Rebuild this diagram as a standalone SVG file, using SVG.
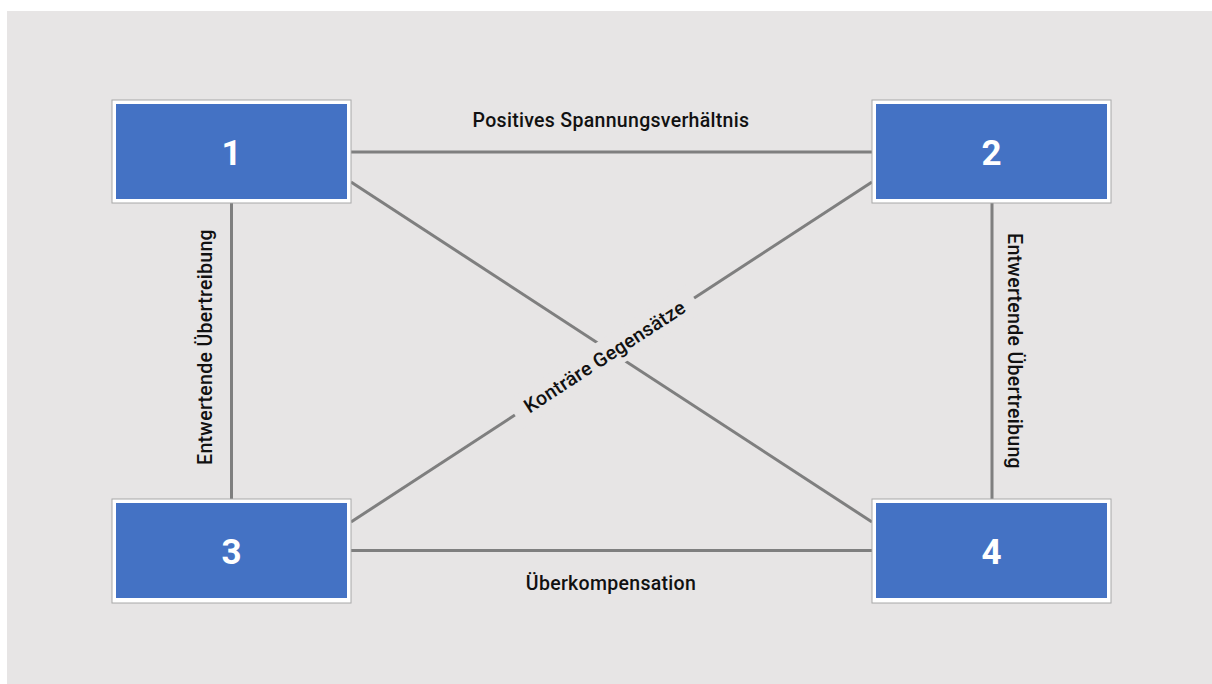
<svg xmlns="http://www.w3.org/2000/svg" width="1212" height="684" viewBox="0 0 1212 684">
  <defs>
    <style>
      .edge { stroke: #7f7f7f; stroke-width: 3; fill: none; }
      .frame { fill: #ffffff; stroke: #a8a8a8; stroke-width: 1; }
      .inner { fill: #4472c4; }
      .num { font-family: Roboto, "Liberation Sans", sans-serif; font-weight: 700; font-size: 35px; fill: #ffffff; text-anchor: middle; }
      .lbl { font-family: Roboto, "Liberation Sans", sans-serif; font-weight: 500; font-size: 19.5px; letter-spacing: 0.3px; fill: #111111; text-anchor: middle; }
    </style>
  </defs>
  <rect x="0" y="0" width="1212" height="684" fill="#ffffff"/>
  <rect x="7" y="11" width="1205" height="673" fill="#e7e5e5"/>

  <g id="connectors">
    <line class="edge" x1="351" y1="152" x2="872" y2="152"/>
    <line class="edge" x1="351" y1="550.5" x2="872" y2="550.5"/>
    <line class="edge" x1="231.5" y1="203" x2="231.5" y2="500"/>
    <line class="edge" x1="992" y1="203" x2="992" y2="500"/>
    <line class="edge" x1="351" y1="182" x2="872" y2="522"/>
    <line class="edge" x1="351" y1="522" x2="872" y2="182"/>
    <g transform="translate(604.5 356.5) rotate(-33.1)">
      <rect x="-107" y="-16" width="214" height="32" fill="#e7e5e5"/>
      <text class="lbl" x="0" y="7">Konträre Gegensätze</text>
    </g>
    <text class="lbl" x="611" y="127">Positives Spannungsverhältnis</text>
    <text class="lbl" x="611" y="590">Überkompensation</text>
    <text class="lbl" transform="translate(212 347) rotate(-90)" x="0" y="0">Entwertende Übertreibung</text>
    <text class="lbl" transform="translate(1008 351) rotate(90)" x="0" y="0">Entwertende Übertreibung</text>
  </g>

  <g id="node1">
    <rect class="frame" x="112" y="100" width="239" height="103"/>
    <rect class="inner" x="116" y="104" width="231" height="95"/>
    <text class="num" x="231.5" y="165">1</text>
  </g>
  <g id="node2">
    <rect class="frame" x="872" y="100" width="239" height="103"/>
    <rect class="inner" x="876" y="104" width="231" height="95"/>
    <text class="num" x="991.5" y="165">2</text>
  </g>
  <g id="node3">
    <rect class="frame" x="112" y="499" width="239" height="104"/>
    <rect class="inner" x="116" y="503" width="231" height="95"/>
    <text class="num" x="231.5" y="564">3</text>
  </g>
  <g id="node4">
    <rect class="frame" x="872" y="499" width="239" height="104"/>
    <rect class="inner" x="876" y="503" width="231" height="95"/>
    <text class="num" x="991.5" y="564">4</text>
  </g>
</svg>
